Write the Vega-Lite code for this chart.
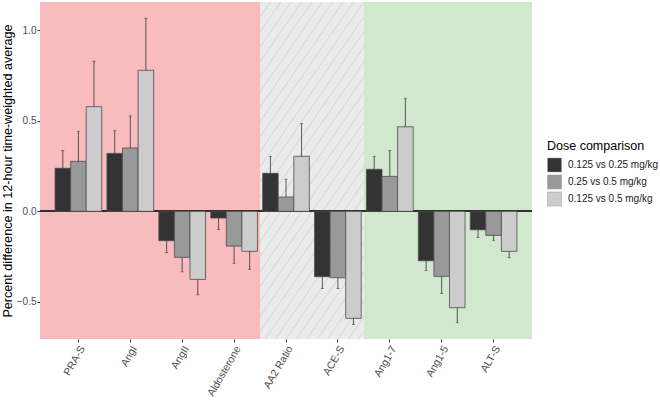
{
  "$schema": "https://vega.github.io/schema/vega-lite/v6.json",
  "autosize": "none",
  "width": 492,
  "height": 337,
  "padding": {"left": 40, "top": 2, "right": 128, "bottom": 64},
  "background": "white",
  "config": {
    "view": {"stroke": null},
    "font": "Liberation Sans",
    "axis": {"labelFont": "Liberation Sans", "titleFont": "Liberation Sans", "labelColor": "#4d4d4d", "tickColor": "#333333", "tickSize": 3, "domain": false, "grid": false},
    "legend": {"labelFont": "Liberation Sans", "titleFont": "Liberation Sans"}
  },
  "datasets": {
    "regions": [
      {"region": "RAS", "xmin": 0.26, "xmax": 4.5, "color": "#F8BBBE"},
      {"region": "Other", "xmin": 4.5, "xmax": 6.5, "color": "#EBEBEB"},
      {"region": "ACE2", "xmin": 6.5, "xmax": 9.74, "color": "#D1E8CE"}
    ],
    "stripes": [
      {"x0": 0.0, "x1": 4.5}, {"x0": 0.2, "x1": 4.7}, {"x0": 0.4, "x1": 4.9}, {"x0": 0.6, "x1": 5.1},
      {"x0": 0.8, "x1": 5.3}, {"x0": 1.0, "x1": 5.5}, {"x0": 1.2, "x1": 5.7}, {"x0": 1.4, "x1": 5.9},
      {"x0": 1.6, "x1": 6.1}, {"x0": 1.8, "x1": 6.3}, {"x0": 2.0, "x1": 6.5}, {"x0": 2.2, "x1": 6.7},
      {"x0": 2.4, "x1": 6.9}, {"x0": 2.6, "x1": 7.1}, {"x0": 2.8, "x1": 7.3}, {"x0": 3.0, "x1": 7.5},
      {"x0": 3.2, "x1": 7.7}, {"x0": 3.4, "x1": 7.9}, {"x0": 3.6, "x1": 8.1}, {"x0": 3.8, "x1": 8.3},
      {"x0": 4.0, "x1": 8.5}, {"x0": 4.2, "x1": 8.7}, {"x0": 4.4, "x1": 8.9}, {"x0": 4.6, "x1": 9.1},
      {"x0": 4.8, "x1": 9.3}, {"x0": 5.0, "x1": 9.5}, {"x0": 5.2, "x1": 9.7}, {"x0": 5.4, "x1": 9.9},
      {"x0": 5.6, "x1": 10.1}, {"x0": 5.8, "x1": 10.3}, {"x0": 6.0, "x1": 10.5}, {"x0": 6.2, "x1": 10.7},
      {"x0": 6.4, "x1": 10.9}
    ],
    "bars": [
      {"cat": "PRA-S", "dose": "0.125 vs 0.25 mg/kg", "value": 0.238, "err": 0.335},
      {"cat": "PRA-S", "dose": "0.25 vs 0.5 mg/kg", "value": 0.276, "err": 0.44},
      {"cat": "PRA-S", "dose": "0.125 vs 0.5 mg/kg", "value": 0.578, "err": 0.829},
      {"cat": "AngI", "dose": "0.125 vs 0.25 mg/kg", "value": 0.32, "err": 0.445},
      {"cat": "AngI", "dose": "0.25 vs 0.5 mg/kg", "value": 0.35, "err": 0.527},
      {"cat": "AngI", "dose": "0.125 vs 0.5 mg/kg", "value": 0.779, "err": 1.066},
      {"cat": "AngII", "dose": "0.125 vs 0.25 mg/kg", "value": -0.162, "err": -0.227},
      {"cat": "AngII", "dose": "0.25 vs 0.5 mg/kg", "value": -0.254, "err": -0.334},
      {"cat": "AngII", "dose": "0.125 vs 0.5 mg/kg", "value": -0.376, "err": -0.461},
      {"cat": "Aldosterone", "dose": "0.125 vs 0.25 mg/kg", "value": -0.037, "err": -0.1},
      {"cat": "Aldosterone", "dose": "0.25 vs 0.5 mg/kg", "value": -0.192, "err": -0.287},
      {"cat": "Aldosterone", "dose": "0.125 vs 0.5 mg/kg", "value": -0.221, "err": -0.32},
      {"cat": "AA2 Ratio", "dose": "0.125 vs 0.25 mg/kg", "value": 0.21, "err": 0.304},
      {"cat": "AA2 Ratio", "dose": "0.25 vs 0.5 mg/kg", "value": 0.079, "err": 0.177},
      {"cat": "AA2 Ratio", "dose": "0.125 vs 0.5 mg/kg", "value": 0.304, "err": 0.484},
      {"cat": "ACE-S", "dose": "0.125 vs 0.25 mg/kg", "value": -0.361, "err": -0.426},
      {"cat": "ACE-S", "dose": "0.25 vs 0.5 mg/kg", "value": -0.367, "err": -0.426},
      {"cat": "ACE-S", "dose": "0.125 vs 0.5 mg/kg", "value": -0.591, "err": -0.624},
      {"cat": "Ang1-7", "dose": "0.125 vs 0.25 mg/kg", "value": 0.232, "err": 0.304},
      {"cat": "Ang1-7", "dose": "0.25 vs 0.5 mg/kg", "value": 0.193, "err": 0.335},
      {"cat": "Ang1-7", "dose": "0.125 vs 0.5 mg/kg", "value": 0.467, "err": 0.622},
      {"cat": "Ang1-5", "dose": "0.125 vs 0.25 mg/kg", "value": -0.273, "err": -0.326},
      {"cat": "Ang1-5", "dose": "0.25 vs 0.5 mg/kg", "value": -0.359, "err": -0.453},
      {"cat": "Ang1-5", "dose": "0.125 vs 0.5 mg/kg", "value": -0.532, "err": -0.615},
      {"cat": "ALT-S", "dose": "0.125 vs 0.25 mg/kg", "value": -0.102, "err": -0.144},
      {"cat": "ALT-S", "dose": "0.25 vs 0.5 mg/kg", "value": -0.133, "err": -0.16},
      {"cat": "ALT-S", "dose": "0.125 vs 0.5 mg/kg", "value": -0.221, "err": -0.256}
    ]
  },
  "resolve": {"scale": {"x": "independent"}},
  "layer": [
    {
      "data": {"name": "regions"},
      "transform": [{"filter": "datum.region === 'Other'"}],
      "mark": {"type": "rect", "stroke": null},
      "encoding": {
        "x": {"field": "xmin", "type": "quantitative", "scale": {"domain": [0.26, 9.74], "nice": false, "zero": false}, "axis": null},
        "x2": {"field": "xmax"},
        "color": {"field": "color", "type": "nominal", "scale": null}
      }
    },
    {
      "data": {"name": "stripes"},
      "mark": {"type": "rule", "color": "#D2D2D2", "strokeWidth": 0.9, "clip": true},
      "encoding": {
        "x": {"field": "x0", "type": "quantitative", "scale": {"domain": [0.26, 9.74], "nice": false, "zero": false}, "axis": null},
        "x2": {"field": "x1"},
        "y": {"datum": -0.705, "type": "quantitative", "scale": {"domain": [-0.705, 1.156], "nice": false, "zero": false},
              "axis": {"values": [-0.5, 0, 0.5, 1.0], "format": ".1f", "title": "Percent difference in 12-hour time-weighted average", "titleFontSize": 12.6, "titleFontWeight": "normal", "titleColor": "black", "labelFontSize": 10, "labelPadding": 1, "titlePadding": 2}},
        "y2": {"datum": 1.156}
      }
    },
    {
      "data": {"name": "regions"},
      "transform": [{"filter": "datum.region !== 'Other'"}],
      "mark": {"type": "rect", "stroke": null},
      "encoding": {
        "x": {"field": "xmin", "type": "quantitative", "scale": {"domain": [0.26, 9.74], "nice": false, "zero": false}, "axis": null},
        "x2": {"field": "xmax"},
        "color": {"field": "color", "type": "nominal", "scale": null}
      }
    },
    {
      "data": {"name": "bars"},
      "layer": [
        {
          "mark": {"type": "rule", "color": "#333333", "strokeWidth": 1},
          "encoding": {
            "y": {"datum": 0, "type": "quantitative"}
          }
        },
        {
          "mark": {"type": "bar", "stroke": "#4d4d4d", "strokeWidth": 0.8},
          "encoding": {
            "x": {"field": "cat", "type": "nominal", "sort": null,
                  "scale": {"paddingInner": 0.1, "paddingOuter": 0.29},
                  "axis": {"title": null, "labelAngle": -60, "labelAlign": "right", "labelBaseline": "top", "labelFontSize": 10.5, "labelPadding": 2}},
            "xOffset": {"field": "dose", "type": "nominal", "sort": ["0.125 vs 0.25 mg/kg", "0.25 vs 0.5 mg/kg", "0.125 vs 0.5 mg/kg"], "scale": {"paddingInner": 0, "paddingOuter": 0}},
            "y": {"field": "value", "type": "quantitative"},
            "y2": {"datum": 0},
            "fill": {"field": "dose", "type": "nominal", "sort": ["0.125 vs 0.25 mg/kg", "0.25 vs 0.5 mg/kg", "0.125 vs 0.5 mg/kg"],
                     "scale": {"domain": ["0.125 vs 0.25 mg/kg", "0.25 vs 0.5 mg/kg", "0.125 vs 0.5 mg/kg"], "range": ["#333333", "#999999", "#cccccc"]},
                     "legend": {"title": "Dose comparison", "orient": "none", "legendX": 507, "legendY": 138, "titleFontSize": 12.5, "titleFontWeight": "normal", "titleColor": "black", "labelFontSize": 10, "labelColor": "#1a1a1a", "symbolType": "square", "symbolSize": 196, "symbolStrokeColor": "#999999", "symbolStrokeWidth": 0.5, "rowPadding": 0, "titlePadding": 5, "labelOffset": 6}}
          }
        },
        {
          "mark": {"type": "rule", "color": "#333333", "strokeWidth": 0.8},
          "encoding": {
            "x": {"field": "cat", "type": "nominal", "sort": null},
            "xOffset": {"field": "dose", "type": "nominal", "sort": ["0.125 vs 0.25 mg/kg", "0.25 vs 0.5 mg/kg", "0.125 vs 0.5 mg/kg"]},
            "y": {"field": "value", "type": "quantitative"},
            "y2": {"field": "err"}
          }
        },
        {
          "mark": {"type": "tick", "color": "#333333", "thickness": 0.8, "size": 3, "orient": "horizontal"},
          "encoding": {
            "x": {"field": "cat", "type": "nominal", "sort": null},
            "xOffset": {"field": "dose", "type": "nominal", "sort": ["0.125 vs 0.25 mg/kg", "0.25 vs 0.5 mg/kg", "0.125 vs 0.5 mg/kg"]},
            "y": {"field": "err", "type": "quantitative"}
          }
        }
      ]
    }
  ]
}
